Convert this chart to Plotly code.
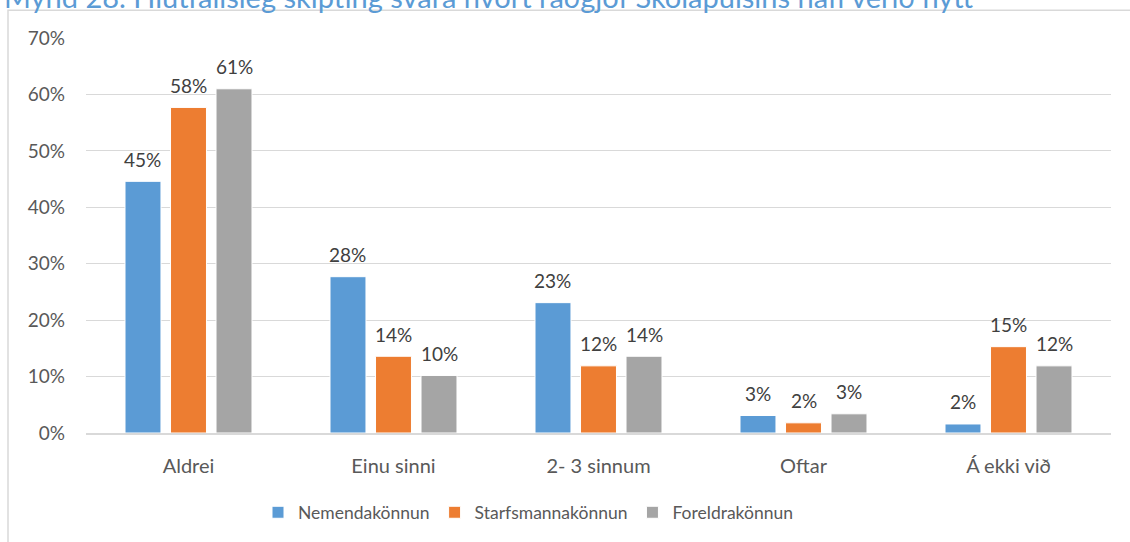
import plotly.graph_objects as go

categories = ["Aldrei", "Einu sinni", "2- 3 sinnum", "Oftar", "Á ekki við"]
series_names = ["Nemendakönnun", "Starfsmannakönnun", "Foreldrakönnun"]
nemendur = [0.446, 0.277, 0.231, 0.031, 0.016]
starfsmenn = [0.577, 0.136, 0.119, 0.018, 0.153]
foreldrar = [0.610, 0.102, 0.136, 0.034, 0.119]
colors = ["#5B9BD5", "#ED7D31", "#A5A5A5"]
title_text = "Mynd 28. Hlutfallsleg skipting svara hvort ráðgjöf Skólapúlsins hafi verið nýtt"

FONT = "Lato"
W, H = 1130, 542
L, R, T, B = 86, 19, 38, 106
ph = H - T - B
pw = W - L - R
BARGAP = 0.334
slot_px = pw / len(categories) * (1 - BARGAP) / 3

def py(p):
    return 1 + (T - p) / ph

def px(p):
    return (p - L) / pw

fig = go.Figure()
all_vals = [nemendur, starfsmenn, foreldrar]
for name, vals, c in zip(series_names, all_vals, colors):
    fig.add_trace(go.Bar(
        x=categories, y=vals, name=name,
        marker=dict(color=c, line=dict(color="white", width=1)),
        cliponaxis=False,
    ))

for i, vals in enumerate(all_vals):
    for cat, v in zip(categories, vals):
        fig.add_annotation(x=cat, y=v, xref="x", yref="y", text=f"{round(v*100):.0f}%",
                           showarrow=False, yanchor="middle", yshift=22,
                           xshift=(i - 1) * slot_px,
                           font=dict(family=FONT, size=19, color="#404040"))

fig.update_layout(
    width=W, height=H,
    margin=dict(l=L, r=R, t=T, b=B),
    paper_bgcolor="white", plot_bgcolor="white",
    barmode="group", bargap=BARGAP, bargroupgap=0.21,
    showlegend=True,
    legend=dict(orientation="h", x=px(528), xanchor="center", y=py(516), yanchor="middle",
                font=dict(family=FONT, size=17.5, color="#595959"),
                itemwidth=30, traceorder="normal"),
    xaxis=dict(showgrid=False, showline=True, linecolor="#D9D9D9", linewidth=1.5,
               ticks="", tickfont=dict(family=FONT, size=20, color="#595959"),
               ticklabelstandoff=14),
    yaxis=dict(range=[0, 0.70], dtick=0.1, tickformat=".0%", showgrid=True,
               gridcolor="#D9D9D9", gridwidth=1, zeroline=False, showline=False,
               tickfont=dict(family=FONT, size=19, color="#595959"),
               ticklabelstandoff=20),
    font=dict(family=FONT),
)

fig.add_shape(type="rect", xref="paper", yref="paper",
              x0=px(8), x1=px(W + 20), y0=py(H + 20), y1=py(10),
              line=dict(color="#D9D9D9", width=1.5), fillcolor="rgba(0,0,0,0)", layer="below")

fig.add_annotation(text=title_text, xref="paper", yref="paper",
                   x=px(2), xanchor="left", y=py(-4), yanchor="middle",
                   showarrow=False, font=dict(family=FONT, size=29, color="#5B9BD5"))

fig.write_html("out.html", config={"displayModeBar": False},
               post_script="document.body.style.margin='0';document.body.style.overflow='hidden';")
